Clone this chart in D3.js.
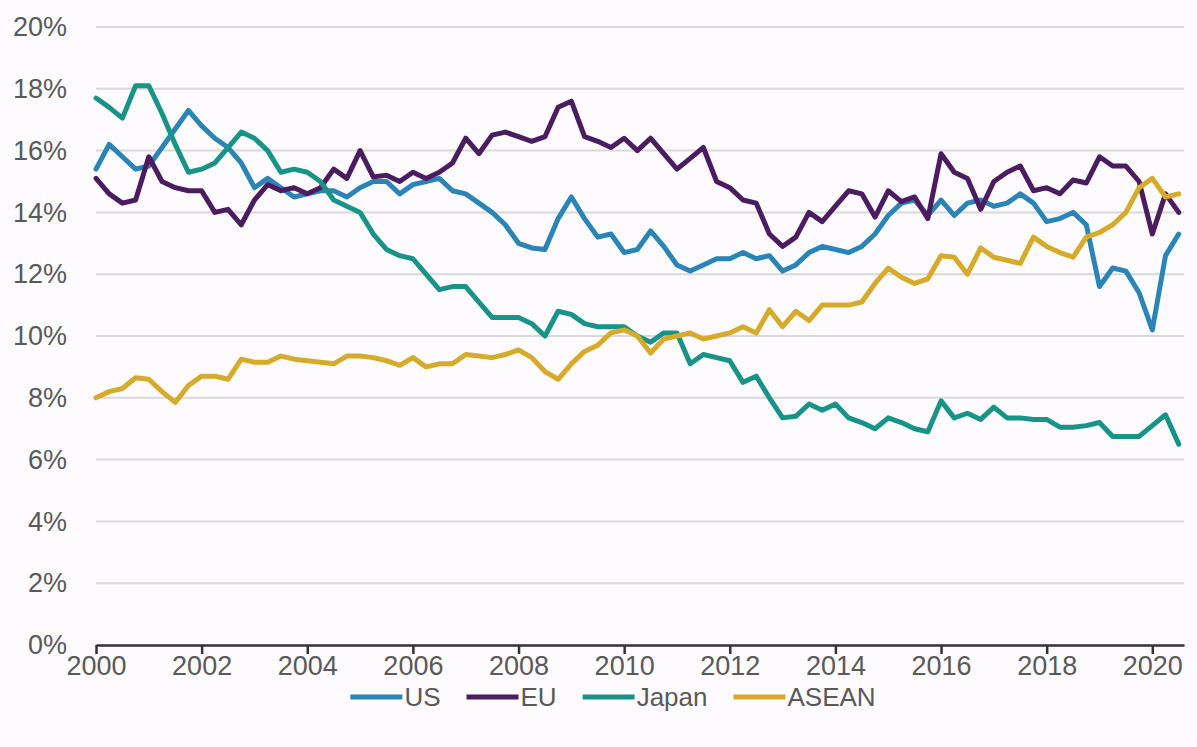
<!DOCTYPE html>
<html><head><meta charset="utf-8">
<script src="https://cdn.jsdelivr.net/npm/d3@7"></script>
<style>
body{margin:0;background:#fdfbfd;}
svg{display:block;}
text{font-family:"Liberation Sans",Arial,sans-serif;fill:#595959;}
</style></head><body><svg id="c" width="1197" height="747"></svg>
<script>
// quarterly data, 2000Q1 .. 2020Q3
const quarters = d3.range(83).map(i => 2000 + i * 0.25);
const seriesNames = ["US", "EU", "Japan", "ASEAN"];
const seriesColors = ["#2b84b6", "#4b1c5f", "#179487", "#d6aa2b"];
const usValues = [
  15.4, 16.2, 15.8, 15.4, 15.5, 16.1, 16.7, 17.3,
  16.8, 16.4, 16.1, 15.6, 14.8, 15.1, 14.8, 14.5,
  14.6, 14.7, 14.7, 14.5, 14.8, 15.0, 15.0, 14.6,
  14.9, 15.0, 15.1, 14.7, 14.6, 14.3, 14.0, 13.6,
  13.0, 12.85, 12.8, 13.8, 14.5, 13.8, 13.2, 13.3,
  12.7, 12.8, 13.4, 12.9, 12.3, 12.1, 12.3, 12.5,
  12.5, 12.7, 12.5, 12.6, 12.1, 12.3, 12.7, 12.9,
  12.8, 12.7, 12.9, 13.3, 13.9, 14.3, 14.4, 13.9,
  14.4, 13.9, 14.3, 14.4, 14.2, 14.3, 14.6, 14.3,
  13.7, 13.8, 14.0, 13.6, 11.6, 12.2, 12.1, 11.4,
  10.2, 12.6, 13.3
];
const euValues = [
  15.1, 14.6, 14.3, 14.4, 15.8, 15.0, 14.8, 14.7,
  14.7, 14.0, 14.1, 13.6, 14.4, 14.9, 14.7, 14.8,
  14.6, 14.8, 15.4, 15.1, 16.0, 15.15, 15.2, 15.0,
  15.3, 15.1, 15.3, 15.6, 16.4, 15.9, 16.5, 16.6,
  16.45, 16.3, 16.45, 17.4, 17.6, 16.45, 16.3, 16.1,
  16.4, 16.0, 16.4, 15.9, 15.4, 15.75, 16.1, 15.0,
  14.8, 14.4, 14.3, 13.3, 12.9, 13.2, 14.0, 13.7,
  14.2, 14.7, 14.6, 13.85, 14.7, 14.35, 14.5, 13.8,
  15.9, 15.3, 15.1, 14.1, 15.0, 15.3, 15.5, 14.7,
  14.8, 14.6, 15.05, 14.95, 15.8, 15.5, 15.5, 15.0,
  13.3, 14.6, 14.0
];
const japanValues = [
  17.7, 17.4, 17.05, 18.1, 18.1, 17.2, 16.2, 15.3,
  15.4, 15.6, 16.1, 16.6, 16.4, 16.0, 15.3, 15.4,
  15.3, 15.0, 14.4, 14.2, 14.0, 13.3, 12.8, 12.6,
  12.5, 12.0, 11.5, 11.6, 11.6, 11.1, 10.6, 10.6,
  10.6, 10.4, 10.0, 10.8, 10.7, 10.4, 10.3, 10.3,
  10.3, 10.0, 9.8, 10.1, 10.1, 9.1, 9.4, 9.3,
  9.2, 8.5, 8.7, 8.0, 7.35, 7.4, 7.8, 7.6,
  7.8, 7.35, 7.2, 7.0, 7.35, 7.2, 7.0, 6.9,
  7.9, 7.35, 7.5, 7.3, 7.7, 7.35, 7.35, 7.3,
  7.3, 7.05, 7.05, 7.1, 7.2, 6.75, 6.75, 6.75,
  7.1, 7.45, 6.5
];
const aseanValues = [
  8.0, 8.2, 8.3, 8.65, 8.6, 8.2, 7.85, 8.4,
  8.7, 8.7, 8.6, 9.25, 9.15, 9.15, 9.35, 9.25,
  9.2, 9.15, 9.1, 9.35, 9.35, 9.3, 9.2, 9.05,
  9.3, 9.0, 9.1, 9.1, 9.4, 9.35, 9.3, 9.4,
  9.55, 9.3, 8.85, 8.6, 9.1, 9.5, 9.7, 10.1,
  10.2, 10.0, 9.45, 9.9, 10.0, 10.1, 9.9, 10.0,
  10.1, 10.3, 10.1, 10.85, 10.3, 10.8, 10.5, 11.0,
  11.0, 11.0, 11.1, 11.7, 12.2, 11.9, 11.7, 11.85,
  12.6, 12.55, 12.0, 12.85, 12.55, 12.45, 12.35, 13.2,
  12.9, 12.7, 12.55, 13.2, 13.35, 13.6, 14.0, 14.8,
  15.1, 14.5, 14.6
];
const yTicks = [0, 2, 4, 6, 8, 10, 12, 14, 16, 18, 20];
const xTicks = [2000, 2002, 2004, 2006, 2008, 2010, 2012, 2014, 2016, 2018, 2020];

const allValues = [usValues, euValues, japanValues, aseanValues];
const svg = d3.select("#c");
svg.append("rect").attr("width", 1197).attr("height", 747).attr("fill", "#fdfbfd");

const x = d3.scaleLinear().domain([2000, 2020.6]).range([96, 1184]);
const y = d3.scaleLinear().domain([0, 20]).range([645, 27]);

// gridlines
svg.append("g").selectAll("line").data(yTicks.filter(d => d > 0)).join("line")
  .attr("x1", x.range()[0]).attr("x2", x.range()[1])
  .attr("y1", d => y(d)).attr("y2", d => y(d))
  .attr("stroke", "#d9d9d9").attr("stroke-width", 2);

// y axis
const ya = svg.append("g").attr("transform", `translate(${x.range()[0]},0)`)
  .call(d3.axisLeft(y).tickValues(yTicks).tickFormat(d => d + "%").tickSize(0).tickPadding(29));
ya.select(".domain").remove();
ya.selectAll("text").attr("font-size", 27).attr("fill", "#595959")
  .attr("font-family", '"Liberation Sans", Arial, sans-serif');

// series lines
const line = d3.line().x((d, i) => x(quarters[i])).y(d => y(d));
svg.append("g").selectAll("path").data(allValues).join("path")
  .attr("d", d => line(d))
  .attr("fill", "none")
  .attr("stroke", (d, i) => seriesColors[i])
  .attr("stroke-width", 5)
  .attr("stroke-linejoin", "round")
  .attr("stroke-linecap", "round");

// x axis
const xa = svg.append("g").attr("transform", `translate(0,${y(0)})`)
  .call(d3.axisBottom(x).tickValues(xTicks).tickFormat(d3.format("d")).tickSize(9).tickSizeOuter(0).tickPadding(2));
xa.select(".domain").attr("stroke", "#333").attr("stroke-width", 2.5);
xa.selectAll(".tick line").attr("stroke", "#333").attr("stroke-width", 2.5);
xa.selectAll("text").attr("font-size", 27).attr("fill", "#595959")
  .attr("font-family", '"Liberation Sans", Arial, sans-serif');

// legend
const lg = svg.append("g");
const items = lg.selectAll("g").data(seriesNames).join("g");
items.append("line").attr("x1", 0).attr("x2", 52).attr("y1", -9).attr("y2", -9)
  .attr("stroke", (d, i) => seriesColors[i]).attr("stroke-width", 5);
items.append("text").attr("x", 54).attr("y", 0).attr("font-size", 26).text(d => d);
const widths = [];
items.each(function () {
  widths.push(54 + this.querySelector("text").getComputedTextLength());
});
const total = d3.sum(widths) + 26 * (widths.length - 1);
let start = 613 - total / 2;
items.attr("transform", (d, i) => {
  const t = `translate(${start},706)`;
  start += widths[i] + 26;
  return t;
});
</script></body></html>
